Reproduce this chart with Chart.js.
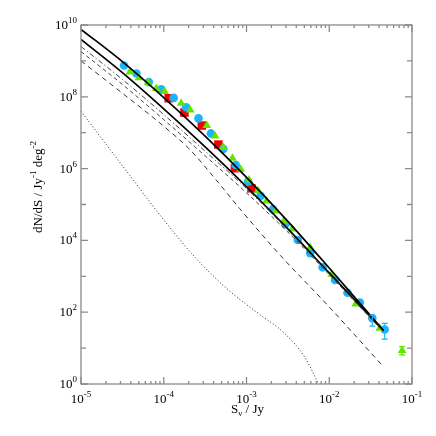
<!DOCTYPE html>
<html><head><meta charset="utf-8">
<script src="https://cdn.jsdelivr.net/npm/chart.js@4/dist/chart.umd.min.js"></script>
<style>html,body{margin:0;padding:0;background:#fff;}canvas{display:block}</style>
</head><body>
<canvas id="c" width="436" height="436"></canvas>
<script>
// ---- data (log10 values) ----
const xTickExps = [-5, -4, -3, -2, -1];
const yTickExps = [0, 1, 2, 3, 4, 5, 6, 7, 8, 9, 10];
const yLabelExps = [0, 2, 4, 6, 8, 10];

const cyanLogS = [-4.48,-4.33,-4.18,-4.03,-3.88,-3.73,-3.58,-3.43,-3.28,-3.13,-2.98,-2.83,-2.68,-2.53,-2.38,-2.23,-2.08,-1.93,-1.78,-1.63,-1.48,-1.33];
const cyanLogN = [8.87,8.65,8.41,8.21,7.97,7.71,7.40,6.98,6.55,6.10,5.64,5.24,4.87,4.45,4.01,3.64,3.25,2.90,2.54,2.27,1.83,1.52];
const cyanErrIdx = [20, 21];
const cyanErrLo = [1.61, 1.25];
const cyanErrHi = [1.92, 1.69];

const greenLogS = [-4.41,-4.30,-4.19,-4.09,-3.99,-3.79,-3.68,-3.48,-3.38,-3.28,-3.17,-3.07,-2.97,-2.86,-2.76,-2.65,-2.55,-2.45,-2.23,-1.97,-1.68,-1.39,-1.12];
const greenLogN = [8.69,8.53,8.39,8.23,8.15,7.82,7.63,7.20,6.91,6.59,6.29,5.98,5.68,5.38,5.10,4.82,4.54,4.32,3.80,3.06,2.23,1.55,0.93];
const greenErrIdx = [22];
const greenErrLo = [0.81];
const greenErrHi = [1.04];

const redLogS = [-3.94,-3.75,-3.54,-3.34,-3.14,-2.94];
const redLogN = [7.96,7.56,7.20,6.67,6.01,5.45];

const modelLogS = [-5.0,-4.5,-4.0,-3.5,-3.0,-2.5,-2.0,-1.345];
const upperLogN = [9.88,8.98,7.98,6.905,5.755,4.53,3.23,1.49];
const lowerLogN = [9.60,8.675,7.665,6.605,5.495,4.32,3.095,1.49];
const dashDotLogN = [9.40,8.485,7.505,6.485,5.445,4.29,3.065,1.46];
const dashBLogN = [9.26,8.345,7.365,6.355,5.325,4.23,3.045,1.45];

const dashCLogS = [-5.0,-4.5,-4.0,-3.68,-3.38,-3.08,-2.59,-2.03,-1.345];
const dashCLogN = [9.00,8.10,7.18,6.52,5.72,4.88,3.58,2.22,0.48];

const dotLogS = [-5.0,-4.83,-4.43,-4.03,-3.63,-3.22,-2.86,-2.54,-2.30,-2.13,-2.10];
const dotLogN = [7.60,7.08,5.87,4.66,3.55,2.62,1.97,1.41,0.76,0.00,-0.15];

const P = v => Math.pow(10, v);
const pts = (xs, ys) => xs.map((x, i) => ({x: P(x), y: P(ys[i])}));

const lineDs = (xs, ys, dash, w, col) => ({
  data: pts(xs, ys), showLine: true, pointRadius: 0, borderColor: col,
  borderWidth: w, borderDash: dash, fill: false, cubicInterpolationMode: 'monotone'
});

const CYAN = '#1db3fb', GREEN = '#62e400', RED = '#f40000';

function drawPow(ctx, base, exp, x, y, align) {
  const fb = '13px "Liberation Serif", "DejaVu Serif", serif';
  const fe = '9px "Liberation Serif", "DejaVu Serif", serif';
  ctx.font = fb; const wb = ctx.measureText(base).width;
  ctx.font = fe; const we = ctx.measureText(exp).width;
  const tot = wb + we;
  let x0 = align === 'right' ? x - tot : (align === 'center' ? x - tot / 2 : x);
  ctx.textAlign = 'left'; ctx.textBaseline = 'alphabetic';
  ctx.font = fb; ctx.fillText(base, x0, y);
  ctx.font = fe; ctx.fillText(exp, x0 + wb, y - 6);
}
const supStr = e => (e < 0 ? '-' : '') + Math.abs(e);

const framePlugin = {
  id: 'frame',
  afterDatasetsDraw(chart) {
    const ctx = chart.ctx, xs = chart.scales.x, ys = chart.scales.y;
    const a = chart.chartArea;
    ctx.save();
    // error bars
    ctx.lineWidth = 1.2;
    const eb = (col, xsArr, idx, lo, hi) => {
      ctx.strokeStyle = col;
      idx.forEach((k, j) => {
        const px = xs.getPixelForValue(P(xsArr[k]));
        const y1 = ys.getPixelForValue(P(lo[j])), y2 = ys.getPixelForValue(P(hi[j]));
        ctx.beginPath();
        ctx.moveTo(px, y1); ctx.lineTo(px, y2);
        ctx.moveTo(px - 3, y1); ctx.lineTo(px + 3, y1);
        ctx.moveTo(px - 3, y2); ctx.lineTo(px + 3, y2);
        ctx.stroke();
      });
    };
    eb(CYAN, cyanLogS, cyanErrIdx, cyanErrLo, cyanErrHi);
    eb(GREEN, greenLogS, greenErrIdx, greenErrLo, greenErrHi);

    // frame
    ctx.strokeStyle = '#8a8a8a'; ctx.lineWidth = 1.3;
    ctx.strokeRect(a.left, a.top, a.right - a.left, a.bottom - a.top);
    // ticks
    ctx.beginPath();
    for (let d = -5; d <= -1; d++) {
      for (let m = 1; m <= 9; m++) {
        if (d === -1 && m > 1) break;
        const px = xs.getPixelForValue(m * P(d));
        const L = m === 1 ? 7 : 3;
        ctx.moveTo(px, a.bottom); ctx.lineTo(px, a.bottom - L);
        ctx.moveTo(px, a.top); ctx.lineTo(px, a.top + L);
      }
    }
    yTickExps.forEach(e => {
      const py = ys.getPixelForValue(P(e));
      const L = yLabelExps.includes(e) ? 7 : 5;
      ctx.moveTo(a.left, py); ctx.lineTo(a.left + L, py);
      ctx.moveTo(a.right, py); ctx.lineTo(a.right - L, py);
    });
    ctx.stroke();

    // tick labels
    ctx.fillStyle = '#000';
    xTickExps.forEach(e => {
      const px = xs.getPixelForValue(P(e));
      drawPow(ctx, '10', supStr(e), px, a.bottom + 19, 'center');
    });
    yLabelExps.forEach(e => {
      const py = ys.getPixelForValue(P(e));
      drawPow(ctx, '10', supStr(e), a.left - 4, py + 4, 'right');
    });

    // x title: S_nu / Jy
    const fb = '13px "Liberation Serif", "DejaVu Serif", serif';
    const fs = '9px "Liberation Serif", "DejaVu Serif", serif';
    ctx.font = fb; const w1 = ctx.measureText('S').width;
    ctx.font = fs; const w2 = ctx.measureText('ν').width;
    ctx.font = fb; const w3 = ctx.measureText(' / Jy').width;
    let x0 = (a.left + a.right) / 2 + 1 - (w1 + w2 + w3) / 2;
    const yb = 413;
    ctx.textAlign = 'left';
    ctx.font = fb; ctx.fillText('S', x0, yb);
    ctx.font = fs; ctx.fillText('ν', x0 + w1, yb + 3);
    ctx.font = fb; ctx.fillText(' / Jy', x0 + w1 + w2, yb);

    // y title
    ctx.translate(42, 187);
    ctx.rotate(-Math.PI / 2);
    const parts = [['dN/dS / Jy', fb, 0], ['-1', fs, -6], [' deg', fb, 0], ['-2', fs, -6]];
    let tw = 0;
    parts.forEach(p => { ctx.font = p[1]; tw += ctx.measureText(p[0]).width; });
    let cx = -tw / 2;
    parts.forEach(p => { ctx.font = p[1]; ctx.fillText(p[0], cx, p[2]); cx += ctx.measureText(p[0]).width; });
    ctx.restore();
  }
};

new Chart(document.getElementById('c'), {
  type: 'scatter',
  data: {
    datasets: [
      lineDs(dotLogS, dotLogN, [1, 2.2], 1, '#222'),
      lineDs(dashCLogS, dashCLogN, [5, 4], 1, '#333'),
      lineDs(modelLogS, dashBLogN, [4, 3], 1, '#444'),
      lineDs(modelLogS, dashDotLogN, [5, 2.5, 1.2, 2.5], 1, '#444'),
      lineDs(modelLogS, lowerLogN, [], 1.7, '#000'),
      lineDs(modelLogS, upperLogN, [], 1.7, '#000'),
      { data: pts(greenLogS, greenLogN), pointStyle: 'triangle', pointRadius: 5, backgroundColor: GREEN, borderWidth: 0 },
      { data: pts(cyanLogS, cyanLogN), pointStyle: 'circle', pointRadius: 4.3, backgroundColor: CYAN, borderWidth: 0 },
      { data: pts(redLogS, redLogN), pointStyle: 'rect', pointRadius: 6, backgroundColor: RED, borderWidth: 0 }
    ]
  },
  options: {
    responsive: false, animation: false, devicePixelRatio: 1,
    layout: { padding: { left: 81, right: 24, top: 25, bottom: 52 } },
    plugins: { legend: { display: false }, tooltip: { enabled: false } },
    scales: {
      x: { type: 'logarithmic', min: 1e-5, max: 1e-1, display: false },
      y: { type: 'logarithmic', min: 1, max: 1e10, display: false }
    }
  },
  plugins: [framePlugin]
});
</script>
</body></html>
